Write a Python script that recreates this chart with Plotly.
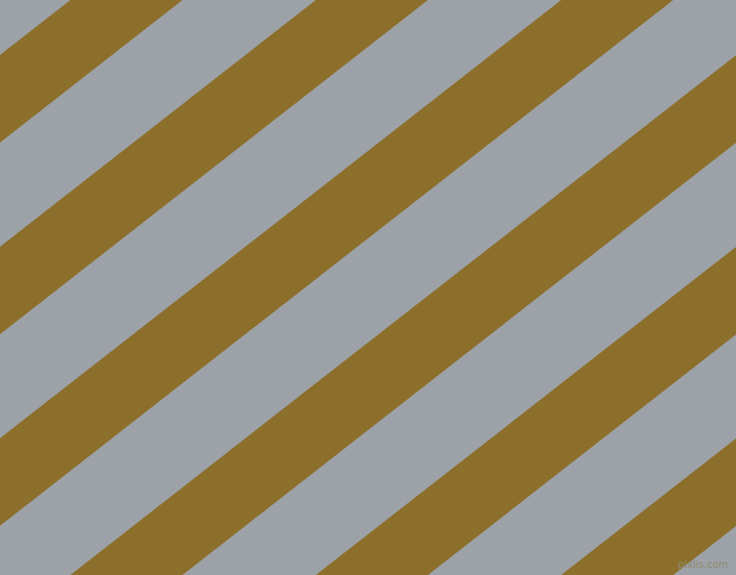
import plotly.graph_objects as go

W, H = 736, 575

gray = "#9da1a8"
olive = "#8b6f2a"

# olive stripes: where the upper edge of each one meets the left border (px from top)
stripe_start = [55, 246.7, 438.3, 630, 821.7, 1013.3]
stripe_width = 87.5      # measured down the left border
slope = 0.781            # stripes rise this much per px to the right

fig = go.Figure()
for s in stripe_start:
    xs = [0, W, W, 0, 0]
    ys = [s, s - slope * W, s + stripe_width - slope * W, s + stripe_width, s]
    fig.add_trace(go.Scatter(x=xs, y=ys, mode="lines", fill="toself",
                             fillcolor=olive, line=dict(width=0, color=olive),
                             hoverinfo="skip"))

fig.add_annotation(x=W - 6, y=H - 3, xref="x", yref="y", text="pixlis.com",
                   showarrow=False, xanchor="right", yanchor="bottom",
                   font=dict(family="DejaVu Sans", size=10, color="#8e8b72"))

fig.update_xaxes(range=[0, W], visible=False, fixedrange=True)
fig.update_yaxes(range=[H, 0], visible=False, fixedrange=True)
fig.update_layout(width=W, height=H, margin=dict(l=0, r=0, t=0, b=0),
                  plot_bgcolor=gray, paper_bgcolor=gray, showlegend=False)

fig.write_html("out.html", config={"displayModeBar": False},
               post_script="document.body.style.margin='0';")
